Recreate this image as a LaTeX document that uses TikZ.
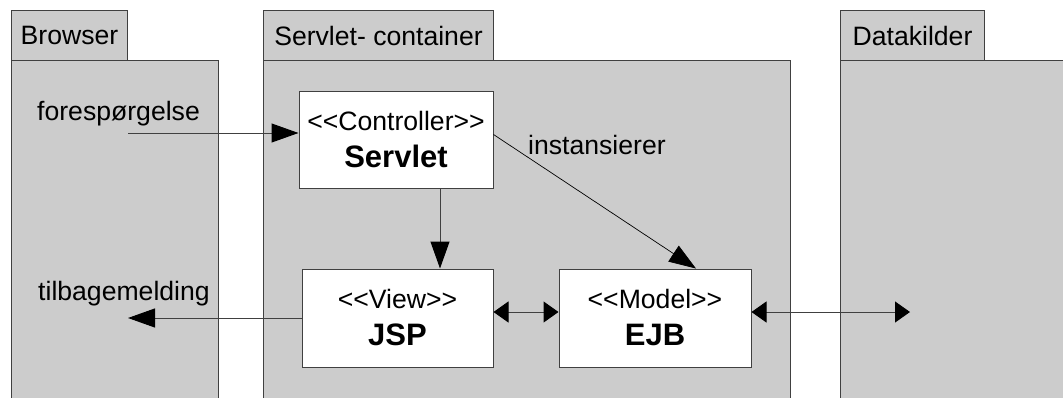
\documentclass[tikz,border=0pt]{standalone}
\usepackage{fontspec}
\setmainfont{Liberation Sans}
\usetikzlibrary{arrows.meta}
\newcommand{\lt}{\textless\kern0pt}
\newcommand{\gtt}{\kern0pt\textgreater}
\tikzset{
  pkg/.style={draw=black!75, fill=black!20, line width=1pt, anchor=north west, inner sep=0pt},
  pkgtab/.style={pkg, font=\fontsize{26.6}{30}\selectfont},
  cls/.style={draw=black!75, fill=white, line width=1pt, align=center, inner sep=0pt,
    font=\fontsize{26.6}{37}\selectfont},
  lbl/.style={font=\fontsize{26.6}{30}\selectfont, inner sep=0pt, anchor=base west},
  conn/.style={draw=black!75, line width=1pt},
  big/.style={-{Triangle[length=27pt,width=19pt,color=black]}},
  dbl/.style={{Triangle[length=15pt,width=21pt,color=black]}-{Triangle[length=15pt,width=21pt,color=black]}}
}
\begin{document}
\begin{tikzpicture}[x=1pt,y=-1pt]
\useasboundingbox (0,0) rectangle (1063,397);
\clip (0,0) rectangle (1063,397);
% packages
\node[pkg, minimum width=207, minimum height=360] (bbody) at (11,60) {};
\node[pkgtab, minimum width=116, minimum height=50] (btab) at (11,10) {Browser};
\node[pkg, minimum width=527, minimum height=360] (sbody) at (263,60) {};
\node[pkgtab, minimum width=230, minimum height=50] (stab) at (263,10) {Servlet- container};
\node[pkg, minimum width=260, minimum height=360] (dbody) at (840,60) {};
\node[pkgtab, minimum width=144, minimum height=50] (dtab) at (840,10) {Datakilder};
% classes
\node[cls, minimum width=194, minimum height=97] (servlet) at (396,139.5)
  {\lt\lt Controller\gtt\gtt\\{\fontsize{31}{37}\selectfont\bfseries Servlet}};
\node[cls, minimum width=191, minimum height=98] (jsp) at (397.5,318)
  {\lt\lt View\gtt\gtt\\{\fontsize{31}{37}\selectfont\bfseries JSP}};
\node[cls, minimum width=192, minimum height=98] (ejb) at (655,318)
  {\lt\lt Model\gtt\gtt\\{\fontsize{31}{37}\selectfont\bfseries EJB}};
% labels
\node[lbl] (lreq) at (37,120) {forespørgelse};
\node[lbl] (lresp) at (38,300) {tilbagemelding};
\node[lbl] (linst) at (528,154) {instansierer};
% free ends
\coordinate (reqstart) at (128,133);
\coordinate (respend) at (128,318);
\coordinate (dataend) at (910,312);
% connectors
\draw[conn, big] (reqstart) -- (reqstart -| servlet.west);
\draw[conn, big] ([xshift=44pt]servlet.south) -- ([xshift=44pt]servlet.south |- jsp.north);
\draw[conn, big, line width=0.7pt, draw=black] ([yshift=5pt]servlet.east) -- ([xshift=41pt]ejb.north);
\draw[conn, big] (jsp.west) -- (respend);
\draw[conn, dbl] ([yshift=6pt]jsp.east) -- ([yshift=6pt]ejb.west);
\draw[conn, dbl] ([yshift=6pt]ejb.east) -- (dataend);
\end{tikzpicture}
\end{document}
